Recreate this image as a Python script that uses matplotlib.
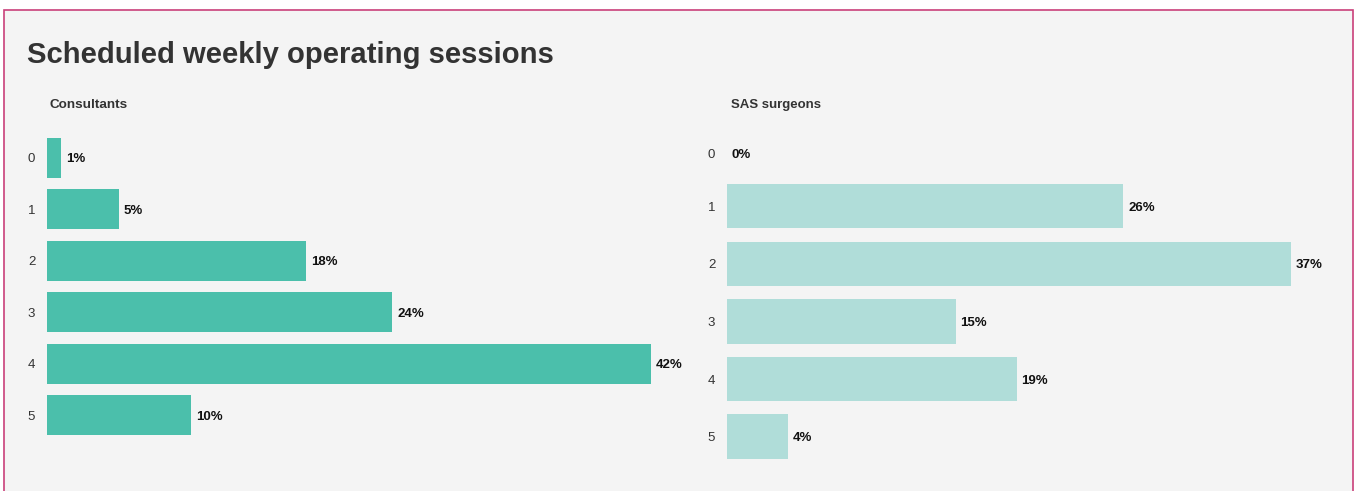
import matplotlib
matplotlib.use('Agg')
import matplotlib.pyplot as plt
from matplotlib.patches import Rectangle

plt.rcParams['font.family'] = ['Liberation Sans', 'DejaVu Sans']

# sessions per week, share of respondents (%)
sessions = ['0', '1', '2', '3', '4', '5']
consultants = [1, 5, 18, 24, 42, 10]
sas_surgeons = [0, 26, 37, 15, 19, 4]

W, H = 1360, 491
BG = '#f4f4f4'

fig = plt.figure(figsize=(W / 100, H / 100), dpi=100)
fig.patch.set_facecolor('white')

# panel background with the pink frame, kept behind the axes
fig.patches.append(Rectangle((4 / W, -0.01), 1349 / W, 1 - 10 / H + 0.01,
                             transform=fig.transFigure, facecolor=BG,
                             edgecolor='#c9407a', linewidth=1.2, zorder=-10))

def px_axes(x0, x1, y0, y1):
    # axes from pixel box (top-left origin)
    return fig.add_axes([x0 / W, 1 - y1 / H, (x1 - x0) / W, (y1 - y0) / H])

def draw(ax, values, color, xmax, height):
    ax.set_facecolor('none')
    ypos = list(range(len(sessions)))
    ax.barh(ypos, values, height=height, color=color, edgecolor='none')
    # empty categories sit a little lower, like the source renderer does
    tick_y = [y + (0.09 if v == 0 else 0) for y, v in zip(ypos, values)]
    for y, v in zip(tick_y, values):
        ax.annotate(f'{v}%', (v, y), xytext=(5, -1.5), textcoords='offset pixels',
                    va='center', ha='left', fontsize=9.5, fontweight='bold',
                    color='#111111')
    ax.set_xlim(0, xmax)
    ax.set_ylim(len(sessions) - 0.5, -0.5)
    ax.set_yticks(tick_y)
    ax.set_yticklabels(sessions)
    ax.tick_params(axis='y', length=0, pad=8.5, labelsize=9.5, labelcolor='#333333')
    ax.set_xticks([])
    for s in ax.spines.values():
        s.set_visible(False)

ax1 = px_axes(47, 47 + 45 * 14.38, 131.95, 441.0)
draw(ax1, consultants, '#4bbfab', 45, 0.777)

ax2 = px_axes(727, 727 + 40 * 15.24, 119.8, 465.4)
draw(ax2, sas_surgeons, '#b0ddd9', 40, 0.77)

fig.text(27 / W, 1 - 63 / H, 'Scheduled weekly operating sessions',
         fontsize=21.1, fontweight='bold', color='#333333', va='baseline')
fig.text(50 / W, 1 - 108 / H, 'Consultants', fontsize=9.7,
         fontweight='bold', color='#333333', va='baseline')
fig.text(731 / W, 1 - 108 / H, 'SAS surgeons', fontsize=9.5,
         fontweight='bold', color='#333333', va='baseline')

fig.savefig('out.png', dpi=100, facecolor=fig.get_facecolor())
